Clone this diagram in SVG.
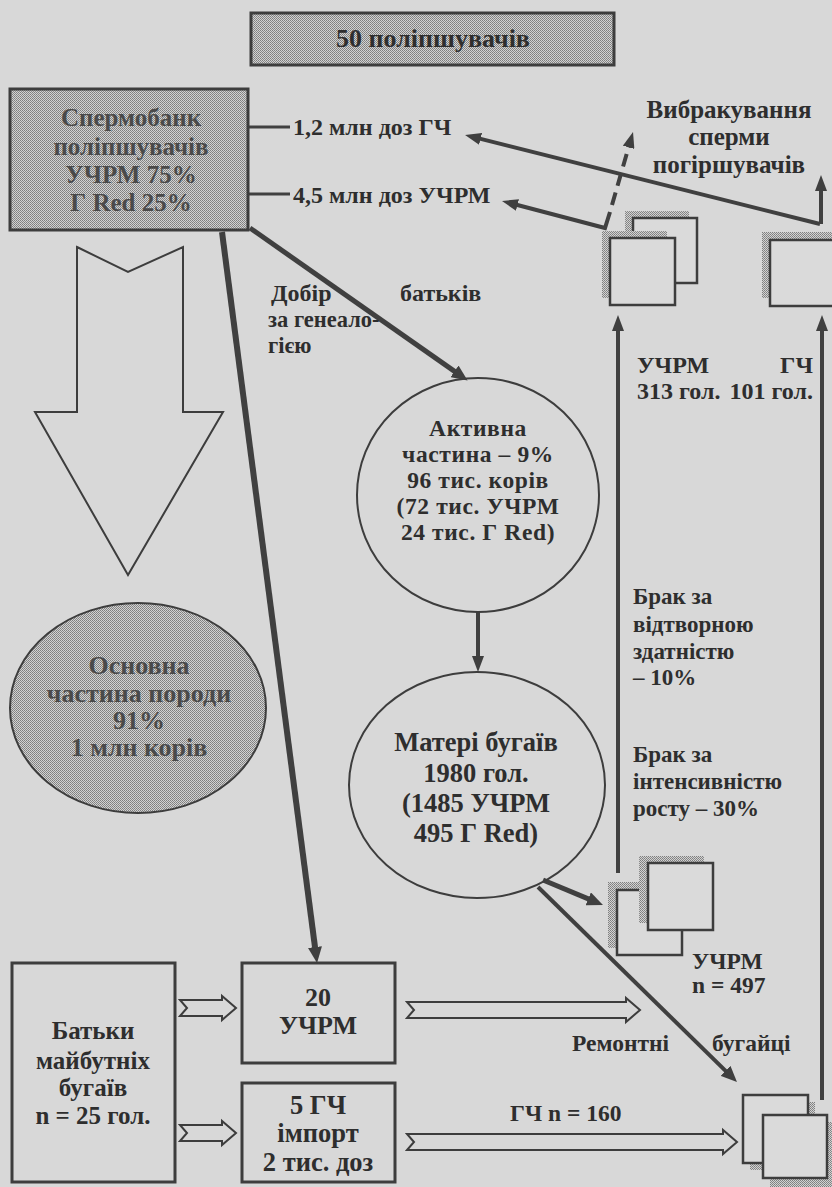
<svg xmlns="http://www.w3.org/2000/svg" width="832" height="1187" viewBox="0 0 832 1187">
<defs>
<pattern id="stip" width="2" height="2" patternUnits="userSpaceOnUse">
<rect width="2" height="2" fill="#d2d2d2"/>
<rect width="1" height="1" fill="#7e7e7e"/>
<rect x="1" y="1" width="1" height="1" fill="#8a8a8a"/>
</pattern>
<marker id="ah" markerUnits="userSpaceOnUse" markerWidth="18" markerHeight="14" refX="4" refY="7" orient="auto">
<path d="M0,0 L16,7 L0,14 z" fill="#3f3f3f"/>
</marker>
<marker id="ahs" markerUnits="userSpaceOnUse" markerWidth="18" markerHeight="12" refX="4" refY="6" orient="auto">
<path d="M0,0 L16,6 L0,12 z" fill="#3f3f3f"/>
</marker>
</defs>
<style>
text{font-family:"Liberation Serif","DejaVu Serif",serif;font-weight:bold;fill:#2e2e2e}
.c{text-anchor:middle}
.g{fill:#4a4a4a}
.box{fill:none;stroke:#3d3d3d;stroke-width:3}
.sbox{fill:url(#stip);stroke:#3d3d3d;stroke-width:3}
.ell{fill:none;stroke:#3d3d3d;stroke-width:2}
.sq{fill:#dadada;stroke:#3d3d3d;stroke-width:2.5}
.sh{fill:url(#stip)}
.ln{fill:none;stroke:#404040;stroke-linecap:butt}
.ho{fill:#d8d8d8;stroke:#3d3d3d;stroke-width:2;stroke-linejoin:miter}
</style>
<rect width="832" height="1187" fill="#d8d8d8"/>

<g id="connectors">
<path class="ln" d="M290,127 L224,127" stroke-width="3" marker-end="url(#ahs)"/>
<path class="ln" d="M290,194 L224,194" stroke-width="3" marker-end="url(#ahs)"/>
<path class="ln" d="M820,224 L476.7,137.9" stroke-width="4" marker-end="url(#ahs)"/>
<path class="ln" d="M821,224 L821,187" stroke-width="4" marker-end="url(#ahs)"/>
<path class="ln" d="M610,212 L605,228 L513.6,204" stroke-width="4" stroke-linejoin="miter" marker-end="url(#ahs)"/>
<path class="ln" d="M612,205 L629.7,143.5" stroke-width="4" stroke-dasharray="13,7" marker-end="url(#ahs)"/>
<path class="ln" d="M222,232 L315.5,951" stroke-width="6" marker-end="url(#ah)"/>
<path class="ln" d="M250,228 L457.8,373.6" stroke-width="5" marker-end="url(#ah)"/>
<path class="ln" d="M478,612 L478,660" stroke-width="4" marker-end="url(#ahs)"/>
<path class="ln" d="M543,880 L591.9,900.4" stroke-width="5" marker-end="url(#ah)"/>
<path class="ln" d="M538,887 L728.4,1073.6" stroke-width="4" marker-end="url(#ah)"/>
<path class="ln" d="M618,873 L618,327" stroke-width="4" marker-end="url(#ahs)"/>
<path class="ln" d="M822,1100 L822,327" stroke-width="4" marker-end="url(#ahs)"/>
<polygon class="ho" points="77,247 128,272 183,247 183,412 223,412 128,575 35,412 77,412"/>
<polygon class="ho" points="180,1000 222,1000 222,996 236,1008 222,1020 222,1016 180,1016 187,1008"/>
<polygon class="ho" points="180,1125 222,1125 222,1121 236,1133 222,1145 222,1141 180,1141 187,1133"/>
<polygon class="ho" points="407,1002 626,1002 626,998 640,1010 626,1022 626,1018 407,1018 414,1010"/>
<polygon class="ho" points="407,1134 723,1134 723,1130 737,1142 723,1154 723,1150 407,1150 414,1142"/>
</g>

<g id="top-box">
<rect class="sbox" x="251" y="13" width="363" height="52"/>
<text class="c" x="433" y="47" font-size="26">50 поліпшувачів</text>
</g>

<g id="spermobank">
<rect class="sbox" x="10" y="89" width="238" height="141"/>
<text class="c g" x="131" y="126" font-size="25">Спермобанк</text>
<text class="c g" x="131" y="155" font-size="25">поліпшувачів</text>
<text class="c g" x="131" y="183" font-size="25">УЧРМ 75%</text>
<text class="c g" x="131" y="211" font-size="25">Г Red 25%</text>
</g>

<g id="label-doses">
<text x="293" y="135" font-size="24">1,2 млн доз ГЧ</text>
<text x="293" y="203" font-size="24">4,5 млн доз УЧРМ</text>
</g>

<g id="label-cull">
<text class="c" x="729" y="118" font-size="25">Вибракування</text>
<text class="c" x="729" y="145" font-size="25">сперми</text>
<text class="c" x="729" y="173" font-size="25">погіршувачів</text>
</g>

<g id="doc-uchrm-top">
<rect class="sh" x="625" y="211" width="64" height="65"/>
<rect class="sq" x="633" y="218" width="64" height="65"/>
<rect class="sh" x="602" y="231" width="65" height="67"/>
<rect class="sq" x="610" y="238" width="65" height="67"/>
</g>

<g id="doc-gch-top">
<rect class="sh" x="762" y="232" width="72" height="66"/>
<rect class="sq" x="770" y="240" width="72" height="66"/>
</g>

<g id="label-counts">
<text x="637" y="373" font-size="24">УЧРМ</text>
<text x="637" y="399" font-size="24">313 гол.</text>
<text x="813" y="373" font-size="24" text-anchor="end">ГЧ</text>
<text x="813" y="399" font-size="24" text-anchor="end">101 гол.</text>
</g>

<g id="label-selection">
<text x="271" y="301" font-size="24">Добір</text>
<text x="400" y="301" font-size="24">батьків</text>
<text x="268" y="327" font-size="22.5">за генеало-</text>
<text x="268" y="353" font-size="22.5">гією</text>
</g>

<g id="active">
<ellipse class="ell" cx="478" cy="495" rx="121" ry="117"/>
<text class="c" x="478" y="436" font-size="23.5" letter-spacing="0.6">Активна</text>
<text class="c" x="478" y="462" font-size="23.5" letter-spacing="0.6">частина – 9%</text>
<text class="c" x="478" y="488" font-size="23.5" letter-spacing="0.6">96 тис. корів</text>
<text class="c" x="478" y="514" font-size="23.5" letter-spacing="0.6">(72 тис. УЧРМ</text>
<text class="c" x="478" y="540" font-size="23.5" letter-spacing="0.6">24 тис. Г Red)</text>
</g>

<g id="main-part">
<ellipse cx="138" cy="708" rx="128" ry="105" fill="url(#stip)" stroke="#3d3d3d" stroke-width="2"/>
<text class="c g" x="139" y="674" font-size="26">Основна</text>
<text class="c g" x="139" y="702" font-size="26">частина породи</text>
<text class="c g" x="139" y="729" font-size="26">91%</text>
<text class="c g" x="139" y="756" font-size="26">1 млн корів</text>
</g>

<g id="mothers">
<ellipse class="ell" cx="477" cy="785" rx="128" ry="113"/>
<text class="c" x="476" y="751" font-size="26.5">Матері бугаїв</text>
<text class="c" x="476" y="782" font-size="26.5">1980 гол.</text>
<text class="c" x="476" y="812" font-size="26.5">(1485 УЧРМ</text>
<text class="c" x="476" y="842" font-size="26.5">495 Г Red)</text>
</g>

<g id="label-reject">
<text x="633" y="604" font-size="23">Брак за</text>
<text x="633" y="632" font-size="23">відтворною</text>
<text x="633" y="659" font-size="23">здатністю</text>
<text x="633" y="685" font-size="23">– 10%</text>
<text x="633" y="762" font-size="23">Брак за</text>
<text x="633" y="789" font-size="23">інтенсивністю</text>
<text x="633" y="816" font-size="23">росту – 30%</text>
</g>

<g id="doc-uchrm-bottom">
<rect class="sh" x="608" y="882" width="65" height="66"/>
<rect class="sq" x="617" y="890" width="65" height="65"/>
<rect class="sh" x="639" y="856" width="65" height="67"/>
<rect class="sq" x="648" y="863" width="65" height="67"/>
<text x="692" y="969" font-size="23.5">УЧРМ</text>
<text x="692" y="993" font-size="23.5">n = 497</text>
</g>

<g id="label-repair">
<text x="572" y="1051" font-size="23.5">Ремонтні</text>
<text x="712" y="1051" font-size="23.5">бугайці</text>
<text x="510" y="1121" font-size="23.5">ГЧ n = 160</text>
</g>

<g id="doc-gch-bottom">
<rect class="sh" x="750" y="1102" width="65" height="68"/>
<rect class="sq" x="743" y="1095" width="65" height="68"/>
<rect class="sh" x="770" y="1122" width="65" height="66"/>
<rect class="sq" x="763" y="1115" width="64" height="63"/>
</g>

<g id="fathers">
<rect class="box" x="12" y="963" width="163" height="219"/>
<text class="c" x="93" y="1039" font-size="25">Батьки</text>
<text class="c" x="93" y="1069" font-size="25">майбутніх</text>
<text class="c" x="93" y="1096" font-size="25">бугаїв</text>
<text class="c" x="93" y="1124" font-size="25">n = 25 гол.</text>
</g>

<g id="uchrm-20">
<rect class="box" x="242" y="963" width="153" height="100"/>
<text class="c" x="318" y="1006" font-size="26">20</text>
<text class="c" x="318" y="1034" font-size="26">УЧРМ</text>
</g>

<g id="gch-import">
<rect class="box" x="242" y="1083" width="153" height="99"/>
<text class="c" x="318" y="1114" font-size="26.5">5 ГЧ</text>
<text class="c" x="318" y="1142" font-size="26.5">імпорт</text>
<text class="c" x="318" y="1171" font-size="26.5">2 тис. доз</text>
</g>
</svg>
